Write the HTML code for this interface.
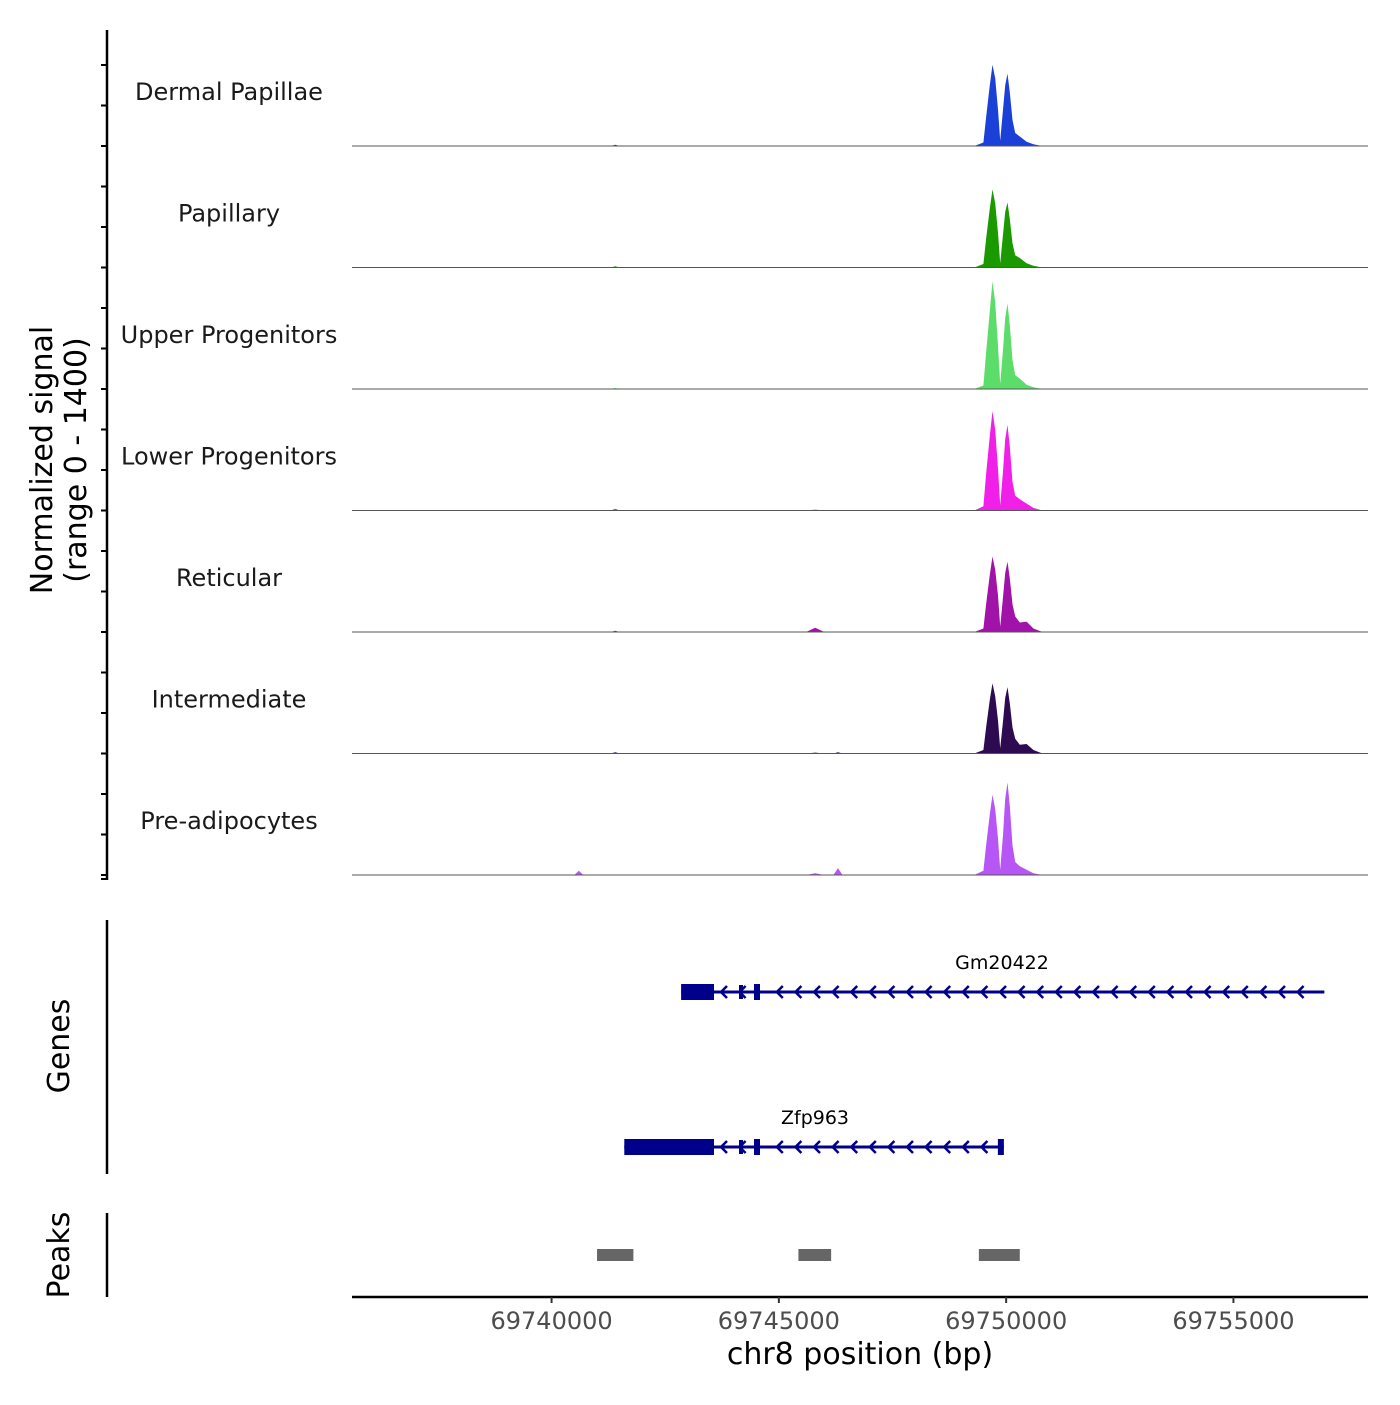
<!DOCTYPE html>
<html><head><meta charset="utf-8"><style>
body{margin:0;background:#fff}
svg text{font-family:"DejaVu Sans","Liberation Sans",sans-serif}
</style></head><body>
<svg id="chart" width="1400" height="1400" viewBox="0 0 1400 1400" xmlns="http://www.w3.org/2000/svg">
<g id="tracks"></g>
<g id="leftaxis"></g>
<text transform="translate(52,460) rotate(-90)" text-anchor="middle" font-size="30" fill="#000">Normalized signal</text>
<text transform="translate(86,460) rotate(-90)" text-anchor="middle" font-size="30" fill="#000">(range 0 - 1400)</text>
<line x1="107" y1="920" x2="107" y2="1174" stroke="#000" stroke-width="2.5"/>
<text transform="translate(69,1046) rotate(-90)" text-anchor="middle" font-size="30">Genes</text>
<g id="genes"></g>
<line x1="107" y1="1213" x2="107" y2="1297" stroke="#000" stroke-width="2.5"/>
<text transform="translate(69,1255) rotate(-90)" text-anchor="middle" font-size="30">Peaks</text>
<g id="peaks"></g>
<line x1="352" y1="1297" x2="1368" y2="1297" stroke="#000" stroke-width="2.5"/>
<g id="xaxis"></g>
<text x="860" y="1364" text-anchor="middle" font-size="30">chr8 position (bp)</text>
</svg>
<script>
const trackNames=["Dermal Papillae","Papillary","Upper Progenitors","Lower Progenitors","Reticular","Intermediate","Pre-adipocytes"];
const trackColors=["#1a40d8","#1a9a00","#5cdd6a","#f020e8","#a012a8","#2e0a50","#b656f5"];
const positions=[69736000,69740500,69740600,69740700,69741300,69741400,69741500,69745600,69745800,69746000,69746200,69746300,69746400,69749300,69749500,69749560,69749640,69749700,69749760,69749820,69749870,69749930,69749980,69750030,69750080,69750140,69750200,69750300,69750450,69750600,69750800,69758000];
const sigDermal=[0,0,0,0,0,15,0,0,0,0,0,0,0,0,40,330,700,937,780,420,60,420,700,833,620,300,150,110,50,20,0,0];
const sigPapillary=[0,0,0,0,0,15,0,0,0,0,0,0,0,0,40,330,680,900,740,400,50,380,640,750,560,280,140,110,50,20,0,0];
const sigUpper=[0,0,0,0,0,12,0,0,0,0,0,0,0,0,40,420,900,1240,1000,500,60,450,820,985,740,330,160,120,50,20,0,0];
const sigLower=[0,0,0,0,0,20,0,0,10,0,0,0,0,0,50,420,860,1145,930,480,60,450,820,985,740,330,170,130,80,30,0,0];
const sigReticular=[0,0,0,0,0,15,0,0,50,0,0,0,0,0,40,320,660,870,720,420,60,400,680,810,620,320,180,110,120,40,0,0];
const sigIntermediate=[0,0,0,0,0,15,0,0,10,0,0,15,0,0,40,300,620,810,660,380,60,370,640,765,580,300,170,100,110,40,0,0];
const sigPreadipocytes=[0,0,50,0,0,0,0,0,20,0,0,80,0,0,50,340,700,925,760,420,60,460,880,1065,800,340,150,100,60,20,0,0];
const signals=[sigDermal,sigPapillary,sigUpper,sigLower,sigReticular,sigIntermediate,sigPreadipocytes];
const xTicks=[69740000,69745000,69750000,69755000];
const peakStarts=[69741000,69745430,69749400];
const peakEnds=[69741800,69746150,69750300];
const geneNames=["Gm20422","Zfp963"];
const geneStarts=[69742850,69741600];
const geneEnds=[69757000,69749950];
const NS="http://www.w3.org/2000/svg";
const X0=352,X1=1368,BP0=69735610,BP1=69757960;
const xs=v=>X0+(v-BP0)/(BP1-BP0)*(X1-X0);
const TH=121.5,YMAX=1400;
const base=i=>146+i*TH;
const ys=(v,i)=>base(i)-v/YMAX*TH;
function mk(tag,attrs,parent){const e=document.createElementNS(NS,tag);for(const k in attrs)e.setAttribute(k,attrs[k]);parent.appendChild(e);return e;}
const tg=document.getElementById('tracks');
signals.forEach((s,i)=>{
  let d=`M${xs(positions[0])},${base(i)}`;
  positions.forEach((p,j)=>{d+=`L${xs(p).toFixed(1)},${ys(s[j],i).toFixed(1)}`;});
  d+=`L${xs(positions[positions.length-1])},${base(i)}Z`;
  const a=mk('path',{d:d,fill:trackColors[i]},tg);
  
  
  const l=mk('line',{x1:X0,x2:X1,y1:base(i),y2:base(i),stroke:'#555',"stroke-width":1},tg);
  
  
  const t=mk('text',{x:229,y:base(i)-46,"text-anchor":"middle","font-size":24,fill:'#1a1a1a'},tg);
  t.textContent=trackNames[i];
  
  
});
const la=document.getElementById('leftaxis');
mk('line',{x1:107,x2:107,y1:30,y2:880,stroke:'#000',"stroke-width":2.5},la);
for(let i=0;i<7;i++)for(let k=0;k<3;k++){const y=base(i)-k*TH/3;mk('line',{x1:101,x2:107,y1:y,y2:y,stroke:'#000',"stroke-width":2},la);}
mk('line',{x1:101,x2:107,y1:base(6)+4,y2:base(6)+4,stroke:'#000',"stroke-width":2},la);
const xa=document.getElementById('xaxis');
xTicks.forEach(v=>{
  mk('line',{x1:xs(v),x2:xs(v),y1:1297,y2:1303,stroke:'#333',"stroke-width":2},xa);
  const t=mk('text',{x:xs(v),y:1329,"text-anchor":"middle","font-size":24,fill:'#4d4d4d'},xa);
  t.textContent=v;
  
  
});
const pg=document.getElementById('peaks');
peakStarts.forEach((s,i)=>{
  const r=mk('rect',{x:xs(s),y:1249,width:xs(peakEnds[i])-xs(s),height:12,fill:'#666'},pg);
  
  
});
const gg=document.getElementById('genes');
const gy=[992,1147],C='#00008b';
geneNames.forEach((n,i)=>{
  const y=gy[i],g=mk('g',{},gg);
  
  
  const a=xs(geneStarts[i]),b=xs(geneEnds[i]);
  mk('line',{x1:a,x2:b,y1:y,y2:y,stroke:C,"stroke-width":3},g);
  mk('rect',{x:a,y:y-8,width:714-a,height:16,fill:C},g);
  mk('rect',{x:739,y:y-7,width:4,height:14,fill:C},g);
  mk('rect',{x:754,y:y-8,width:6,height:16,fill:C},g);
  if(i==1)mk('rect',{x:b-6,y:y-8,width:6,height:16,fill:C},g);
  for(let x=721;x<b-10;x+=18.6){if(Math.abs(x-757)<6)continue;mk('path',{d:`M${x+6},${y-6}L${x},${y}L${x+6},${y+6}`,stroke:C,"stroke-width":2.5,fill:'none'},g);}
  const t=mk('text',{x:i==0?1002:815,y:y-23,"text-anchor":"middle","font-size":19,fill:'#000'},g);
  t.textContent=n;
});
</script>
</body></html>
